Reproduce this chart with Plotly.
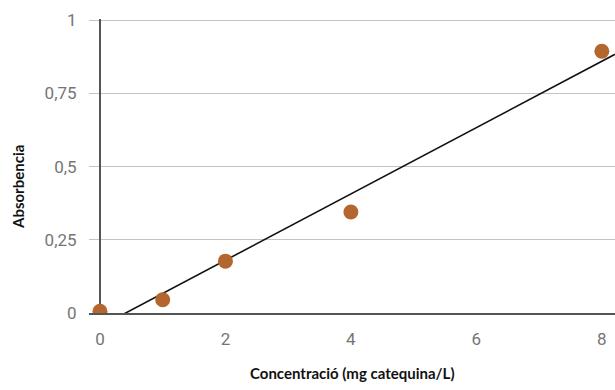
import numpy as np
import plotly.graph_objects as go

# Data
concentracio = [0, 1, 2, 4, 8]
absorbencia = [0.006, 0.045, 0.177, 0.345, 0.894]
x_ticks = [0, 2, 4, 6, 8]
y_ticks = [0, 0.25, 0.5, 0.75, 1]

x_range = [-0.175, 8.21]
y_range = [0, 1.004]

# Linear trendline (least squares)
slope, intercept = np.polyfit(concentracio, absorbencia, 1)
x_fit = np.array([0, x_range[1]])
y_fit = slope * x_fit + intercept

fig = go.Figure()
fig.add_trace(go.Scatter(
    x=x_fit, y=y_fit, mode="lines",
    line=dict(color="#111111", width=1.6),
    hoverinfo="skip", showlegend=False, cliponaxis=True,
))
fig.add_trace(go.Scatter(
    x=concentracio, y=absorbencia, mode="markers",
    marker=dict(color="#B3662D", size=15, line=dict(width=0)),
    showlegend=False, cliponaxis=True,
))

tick_font = dict(family="Roboto", size=17, color="#757575")

fig.update_layout(
    width=615, height=390,
    margin=dict(l=89, r=0, t=19, b=77),
    paper_bgcolor="white", plot_bgcolor="white",
    separators=",.",
    xaxis=dict(
        range=x_range, tickvals=x_ticks, showgrid=False,
        zeroline=True, zerolinecolor="#555555", zerolinewidth=1.5,
        showline=True, linecolor="#555555", linewidth=1.5,
        ticks="outside", ticklen=10, tickcolor="rgba(0,0,0,0)",
        tickfont=tick_font,
    ),
    yaxis=dict(
        range=y_range, tickvals=y_ticks, showgrid=True,
        gridcolor="#c4c4c4", gridwidth=1, zeroline=False,
        ticks="outside", ticklen=8, tickcolor="rgba(0,0,0,0)",
        tickfont=tick_font,
    ),
    annotations=[
        dict(text="<b>Concentració (mg catequina/L)</b>", xref="paper", yref="paper",
             x=0.5, y=-0.2, yanchor="middle", xanchor="center", yshift=-1,
             showarrow=False, font=dict(family="Lato", size=15, color="#111111")),
        dict(text="<b>Absorbencia</b>", xref="paper", yref="paper",
             x=0, xshift=-71, y=0.5, yshift=-21, textangle=-90,
             xanchor="center", yanchor="middle",
             showarrow=False, font=dict(family="Lato", size=15, color="#111111")),
    ],
)

fig.write_html("out.html")
